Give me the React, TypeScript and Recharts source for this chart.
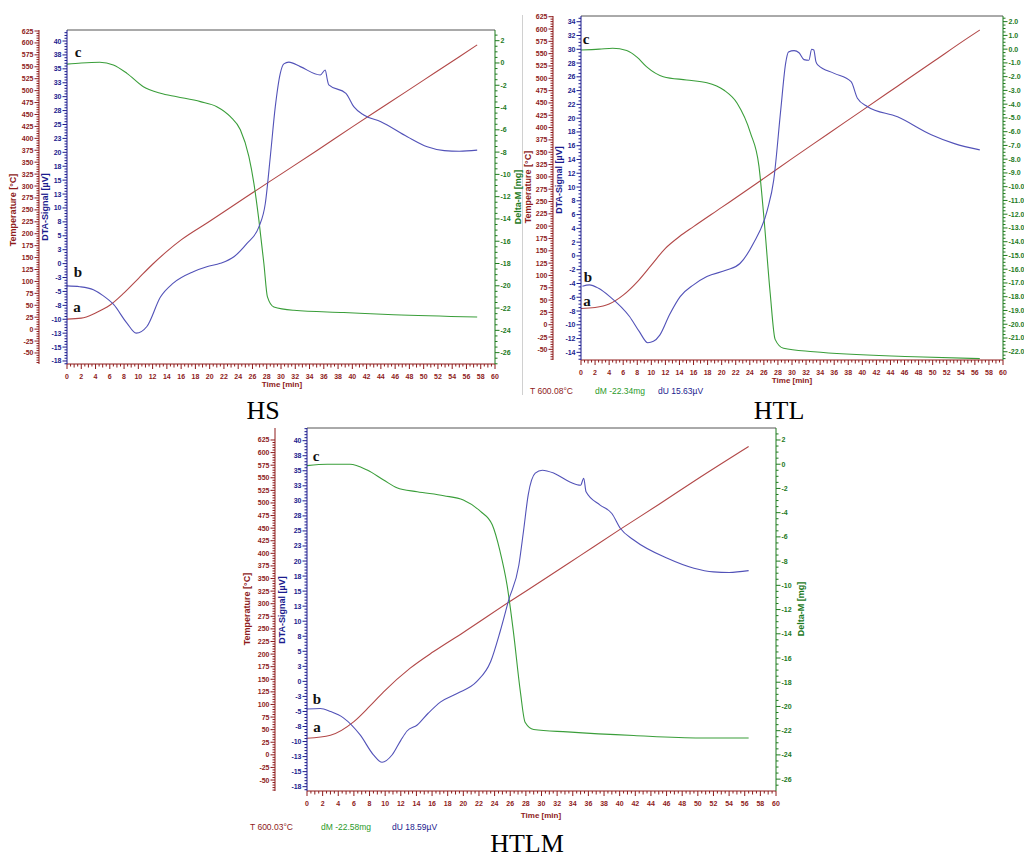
import React from 'react';
import { LineChart, Line, XAxis, YAxis, ReferenceLine } from 'recharts';

type Pt = [number, number]; // [time min, value]

// HS
const hsTemperature: Pt[] = [
  [0, 21], [2, 23], [4, 34], [6, 50], [8, 76], [10, 106], [12, 136], [14, 163], [16, 187],
  [20, 226], [25, 276], [30, 325], [35, 374], [40, 424], [45, 473], [50, 522], [55, 571], [57.5, 596],
];
const hsDta: Pt[] = [
  [0, -4.0], [1.8, -4.15], [3.7, -4.7], [5, -5.7], [6.5, -7.3], [8.4, -10.7], [9.7, -12.5],
  [11.2, -11.3], [13.1, -6.0], [14.9, -3.5], [17.7, -1.45], [19.6, -0.56], [21.5, 0.05],
  [23.4, 1.24], [25.2, 3.6], [26.9, 6.6], [27.8, 10.8], [28.5, 19.2], [29.2, 28.2], [29.9, 34.2],
  [30.4, 35.9], [31.1, 36.2], [32.7, 35.4], [35.5, 33.9], [36.2, 34.8], [36.5, 33.0], [36.7, 32.1],
  [39.1, 30.6], [40.2, 28.2], [41.6, 26.7], [44.0, 25.5], [47.7, 22.8], [50.5, 21.0], [52.9, 20.3],
  [55, 20.2], [57.5, 20.4],
];
const hsDeltaM: Pt[] = [
  [0, -0.1], [2, 0.0], [4.6, 0.06], [6.5, -0.18], [8.4, -0.93], [10.7, -2.13], [13.1, -2.72],
  [15.4, -3.03], [18.7, -3.47], [21.0, -3.92], [22.9, -4.82], [24.3, -6.0], [25.5, -8.4],
  [26.2, -10.8], [26.9, -14.1], [27.6, -18.0], [28.1, -21.0], [29.0, -21.9], [31.8, -22.2],
  [38.8, -22.4], [45.8, -22.6], [57.5, -22.8],
];

// HTL
const htlTemperature: Pt[] = [
  [0, 33], [2, 35], [4, 42], [6, 60], [8, 87], [10, 121], [12, 155], [14, 179], [16, 199],
  [20, 238], [25, 287], [30, 337], [35, 386], [40, 435], [45, 484], [50, 533], [55, 582], [56.7, 598],
];
const htlDta: Pt[] = [
  [0.2, -4.4], [1.2, -4.2], [2.5, -4.7], [4.1, -5.9], [6.9, -8.8], [8.3, -11.0], [9.5, -12.6],
  [10.3, -12.4], [11.2, -11.5], [12.6, -8.5], [14.1, -5.9], [16, -4.2], [17.9, -3.0], [20.7, -2.05],
  [22.6, -1.1], [24.5, 1.8], [26.5, 6.7], [27.4, 11.0], [28.4, 21.2], [29.1, 28.0], [29.5, 29.6],
  [30.3, 29.8], [31.0, 29.5], [31.7, 28.5], [32.4, 28.4], [32.8, 30.0], [33.1, 29.9], [33.4, 28.2],
  [33.7, 27.7], [36.0, 26.5], [38.4, 25.3], [39.3, 22.9], [40.7, 21.7], [45.0, 20.2], [49.8, 17.6],
  [53.1, 16.3], [56.7, 15.4],
];
const htlDeltaM: Pt[] = [
  [0, -0.06], [2.6, 0.0], [4.5, 0.07], [6.5, -0.1], [8, -0.6], [9.3, -1.27], [11.7, -2.0],
  [15.0, -2.24], [17.9, -2.44], [20.3, -2.97], [22.2, -3.93], [24.1, -6.1], [25.3, -8.5],
  [26.0, -12.2], [26.9, -17.75], [27.6, -21.1], [28.8, -21.75], [33.1, -22.0], [47.4, -22.36],
  [56.7, -22.5],
];

// HTLM
const htlmTemperature: Pt[] = [
  [0, 33], [3, 39], [6, 66], [8, 96], [9.8, 125], [13.2, 172], [16.2, 205], [20, 243],
  [26, 305], [30, 345], [35, 396], [40, 447], [45, 497], [50, 548], [56.5, 612],
];
const htlmDta: Pt[] = [
  [0, -4.6], [1.7, -4.5], [3, -5.0], [4.7, -6.1], [6.8, -8.9], [8.5, -12.2], [9.6, -13.45],
  [10.9, -12.2], [12.0, -9.8], [12.8, -8.25], [14.1, -7.25], [15.5, -5.3], [17.1, -3.4],
  [19.2, -2.0], [21.7, -0.05], [23.5, 3.3], [24.7, 8.25], [25.8, 13.5], [27.1, 19.3], [27.7, 25],
  [28.3, 31.0], [29.2, 34.6], [30.1, 35.1], [31.6, 34.6], [33.7, 33.1], [35.0, 32.6], [35.4, 33.75],
  [35.7, 31.5], [37.5, 29.3], [39.0, 27.9], [40.1, 25.4], [41.8, 23.5], [46.1, 20.45], [49.5, 18.8],
  [52.0, 18.2], [54, 18.1], [56.5, 18.4],
];
const htlmDeltaM: Pt[] = [
  [0, -0.12], [2.6, 0.0], [5.5, 0.0], [7.7, -0.48], [9.8, -1.3], [11.5, -1.94], [14.1, -2.27],
  [17.5, -2.6], [20.0, -2.95], [22.2, -3.9], [23.7, -5.0], [24.7, -7.2], [25.6, -10.0],
  [26.4, -13.8], [27.3, -18.8], [27.9, -21.3], [29.0, -21.9], [33.3, -22.1], [41.8, -22.4],
  [50.3, -22.6], [56.5, -22.6],
];

const TEMP_AXIS = '#8e1b1b';
const DTA_AXIS = '#1b1b8e';
const DM_AXIS = '#1d7a1d';
const TEMP_LINE = '#b24848';
const DTA_LINE = '#5252b8';
const DM_LINE = '#3a9e3a';
const SANS = 'Liberation Sans, Arial, sans-serif';
const SERIF = 'Liberation Serif, Times New Roman, serif';

const rows = (pts: Pt[]) => pts.map(([t, v]) => ({ t, v }));

const range = (lo: number, hi: number, step: number) => {
  const out: number[] = [];
  const k0 = Math.ceil(lo / step - 1e-9);
  const k1 = Math.floor(hi / step + 1e-9);
  for (let k = k0; k <= k1; k++) out.push(+(k * step).toFixed(4));
  return out;
};
const isMult = (v: number, step: number) => Math.abs(v / step - Math.round(v / step)) < 1e-6;

const yTick = (side: 'left' | 'right', color: string, major: (v: number) => boolean, fmt: (v: number) => string) =>
  (p: any) => {
    const { x, y, payload } = p;
    const v = payload.value;
    const m = major(v);
    const d = side === 'left' ? -1 : 1;
    const len = m ? 4.5 : 2.5;
    return (
      <g>
        <line x1={x} y1={y} x2={x + d * len} y2={y} stroke={color} strokeWidth={1} />
        {m && (
          <text x={x + d * (len + 1)} y={y} textAnchor={side === 'left' ? 'end' : 'start'}
            dominantBaseline="central" fill={color} fontSize={7} fontWeight="bold" fontFamily={SANS}>
            {fmt(v)}
          </text>
        )}
      </g>
    );
  };

const xTick = (p: any) => {
  const { x, y, payload } = p;
  const v = payload.value;
  const m = isMult(v, 2);
  const len = m ? 5 : isMult(v, 1) ? 3.5 : 2.5;
  return (
    <g>
      <line x1={x} y1={y} x2={x} y2={y + len} stroke={TEMP_AXIS} strokeWidth={1} />
      {m && (
        <text x={x} y={y + 12} textAnchor="middle" dominantBaseline="central" fill={TEMP_AXIS}
          fontSize={7} fontWeight="bold" fontFamily={SANS}>
          {v}
        </text>
      )}
    </g>
  );
};

interface PanelSpec {
  left: number; top: number; width: number; height: number;
  plotTop: number; xHeight: number; tempW: number; dtaW: number; dmW: number;
  tempDomain: [number, number]; dtaDomain: [number, number]; dmDomain: [number, number];
  dtaStep: number; dtaMajor: [number, number]; dtaRound: boolean;
  dmStep: number; dmMinor: number; dmMajor: [number, number]; dmDecimals: number;
  temperature: Pt[]; dta: Pt[]; deltaM: Pt[];
}

function Panel({ s }: { s: PanelSpec }) {
  const tempTicks = range(-70, 625, 5);
  const dtaTicks = range(s.dtaDomain[0], s.dtaDomain[1], 0.5);
  const dmTicks = range(s.dmDomain[0], s.dmDomain[1], s.dmMinor);
  const fmtDta = (v: number) => {
    if (!s.dtaRound) return String(v);
    const r = Math.round(Math.abs(v));
    return String(v < 0 ? -r : r);
  };
  return (
    <div style={{ position: 'absolute', left: s.left, top: s.top }}>
      <LineChart width={s.width} height={s.height} margin={{ top: s.plotTop, right: 0, bottom: 0, left: 0 }}>
        <XAxis type="number" dataKey="t" domain={[0, 60]} allowDataOverflow ticks={range(0, 60, 0.5)}
          interval={0} height={s.xHeight} tickLine={false} tickSize={0} tickMargin={0}
          axisLine={{ stroke: TEMP_AXIS }} tick={xTick} />
        <YAxis yAxisId="dta" orientation="left" type="number" width={s.dtaW} domain={s.dtaDomain}
          allowDataOverflow ticks={dtaTicks} interval={0} tickLine={false} tickSize={0} tickMargin={0}
          axisLine={{ stroke: DTA_AXIS }}
          tick={yTick('left', DTA_AXIS, (v) => isMult(v, s.dtaStep) && v >= s.dtaMajor[0] - 1e-6 && v <= s.dtaMajor[1] + 1e-6, fmtDta)} />
        <YAxis yAxisId="temp" orientation="left" type="number" width={s.tempW} domain={s.tempDomain}
          allowDataOverflow ticks={tempTicks} interval={0} tickLine={false} tickSize={0} tickMargin={0}
          axisLine={{ stroke: TEMP_AXIS }}
          tick={yTick('left', TEMP_AXIS, (v) => isMult(v, 25) && v >= -50, (v) => String(v))} />
        <YAxis yAxisId="dm" orientation="right" type="number" width={s.dmW} domain={s.dmDomain}
          allowDataOverflow ticks={dmTicks} interval={0} tickLine={false} tickSize={0} tickMargin={0}
          axisLine={{ stroke: DM_AXIS }}
          tick={yTick('right', DM_AXIS, (v) => isMult(v, s.dmStep) && v >= s.dmMajor[0] - 1e-6 && v <= s.dmMajor[1] + 1e-6, (v) => v.toFixed(s.dmDecimals))} />
        <ReferenceLine yAxisId="dta" y={s.dtaDomain[1]} stroke="#555" ifOverflow="visible" />
        <Line yAxisId="temp" data={rows(s.temperature)} dataKey="v" type="monotone" stroke={TEMP_LINE}
          strokeWidth={1.1} dot={false} activeDot={false} isAnimationActive={false} />
        <Line yAxisId="dm" data={rows(s.deltaM)} dataKey="v" type="monotone" stroke={DM_LINE}
          strokeWidth={1.1} dot={false} activeDot={false} isAnimationActive={false} />
        <Line yAxisId="dta" data={rows(s.dta)} dataKey="v" type="monotone" stroke={DTA_LINE}
          strokeWidth={1.1} dot={false} activeDot={false} isAnimationActive={false} />
      </LineChart>
    </div>
  );
}

const hsSpec: PanelSpec = {
  left: 0, top: 0, width: 520, height: 400, plotTop: 30, xHeight: 36, tempW: 39, dtaW: 28, dmW: 25,
  tempDomain: [-73.1, 627.1], dtaDomain: [-18.04, 41.98], dmDomain: [-27.02, 2.96],
  dtaStep: 2.5, dtaMajor: [-17.5, 40], dtaRound: true, dmStep: 2, dmMinor: 0.5, dmMajor: [-26, 2], dmDecimals: 0,
  temperature: hsTemperature, dta: hsDta, deltaM: hsDeltaM,
};
const htlSpec: PanelSpec = {
  left: 520, top: 0, width: 504, height: 400, plotTop: 16, xHeight: 40, tempW: 33, dtaW: 28, dmW: 21,
  tempDomain: [-71.6, 626.4], dtaDomain: [-15.11, 34.83], dmDomain: [-22.6, 2.41],
  dtaStep: 2, dtaMajor: [-14, 34], dtaRound: false, dmStep: 1, dmMinor: 0.25, dmMajor: [-22, 2], dmDecimals: 1,
  temperature: htlTemperature, dta: htlDta, deltaM: htlDeltaM,
};
const htlmSpec: PanelSpec = {
  left: 230, top: 420, width: 580, height: 410, plotTop: 8, xHeight: 39, tempW: 45, dtaW: 32, dmW: 34,
  tempDomain: [-71.8, 648.8], dtaDomain: [-18.22, 42.11], dmDomain: [-26.98, 2.99],
  dtaStep: 2.5, dtaMajor: [-17.5, 40], dtaRound: true, dmStep: 2, dmMinor: 0.5, dmMajor: [-26, 2], dmDecimals: 0,
  temperature: htlmTemperature, dta: htlmDta, deltaM: htlmDeltaM,
};

const vLabel = (x: number, y: number, text: string, color: string) => (
  <text x={x} y={y} transform={`rotate(-90 ${x} ${y})`} textAnchor="middle" dominantBaseline="central"
    fill={color} fontSize={9} fontWeight="bold" fontFamily={SANS}>{text}</text>
);
const timeLabel = (x: number, y: number) => (
  <text x={x} y={y} textAnchor="middle" dominantBaseline="central" fill={TEMP_AXIS}
    fontSize={8} fontWeight="bold" fontFamily={SANS}>Time  [min]</text>
);
const curveTag = (x: number, y: number, t: string) => (
  <text x={x} y={y} textAnchor="middle" fill="#111" fontSize={15} fontWeight="bold" fontFamily={SERIF}>{t}</text>
);
const caption = (x: number, y: number, t: string) => (
  <text x={x} y={y} textAnchor="middle" fill="#000" fontSize={26} fontFamily={SERIF}>{t}</text>
);
const stats = (x: number, y: number, t: string, dm: string, du: string, dx: [number, number]) => (
  <g fontSize={8.5} fontFamily={SANS}>
    <text x={x} y={y} fill={TEMP_AXIS}>{t}</text>
    <text x={x + dx[0]} y={y} fill="#2a9a2a">{dm}</text>
    <text x={x + dx[1]} y={y} fill={DTA_AXIS}>{du}</text>
  </g>
);

export default function App() {
  return (
    <div style={{ position: 'absolute', left: 0, top: 0, width: 1024, height: 859, background: '#fff', overflow: 'hidden' }}>
      <Panel s={hsSpec} />
      <Panel s={htlSpec} />
      <Panel s={htlmSpec} />
      <svg width={1024} height={859} style={{ position: 'absolute', left: 0, top: 0, pointerEvents: 'none' }}>
        <line x1={522.5} y1={15} x2={522.5} y2={395} stroke="#d0d0d0" />
        {/* HS */}
        {vLabel(13, 210, 'Temperature  [°C]', TEMP_AXIS)}
        {vLabel(45, 207, 'DTA-Signal  [µV]', DTA_AXIS)}
        {vLabel(518, 197, 'Delta-M  [mg]', DM_AXIS)}
        {timeLabel(282, 384)}
        {curveTag(78, 57, 'c')}
        {curveTag(78, 277, 'b')}
        {curveTag(77, 312, 'a')}
        {caption(263, 419, 'HS')}
        {/* HTL */}
        {vLabel(528, 187, 'Temperature  [°C]', TEMP_AXIS)}
        {vLabel(559, 180, 'DTA-Signal  [µV]', DTA_AXIS)}
        {timeLabel(792, 380)}
        {stats(530, 394, 'T 600.08°C', 'dM -22.34mg', 'dU 15.63µV', [65, 128])}
        {curveTag(586, 44, 'c')}
        {curveTag(588, 282, 'b')}
        {curveTag(587, 306, 'a')}
        {caption(779, 419, 'HTL')}
        {/* HTLM */}
        {vLabel(247, 609, 'Temperature  [°C]', TEMP_AXIS)}
        {vLabel(282, 610, 'DTA-Signal  [µV]', DTA_AXIS)}
        {vLabel(801, 609, 'Delta-M  [mg]', DM_AXIS)}
        {timeLabel(541, 815)}
        {stats(250, 830, 'T 600.03°C', 'dM -22.58mg', 'dU 18.59µV', [71, 142])}
        {curveTag(316, 461, 'c')}
        {curveTag(317, 704, 'b')}
        {curveTag(317, 732, 'a')}
        {caption(527, 852, 'HTLM')}
      </svg>
    </div>
  );
}
